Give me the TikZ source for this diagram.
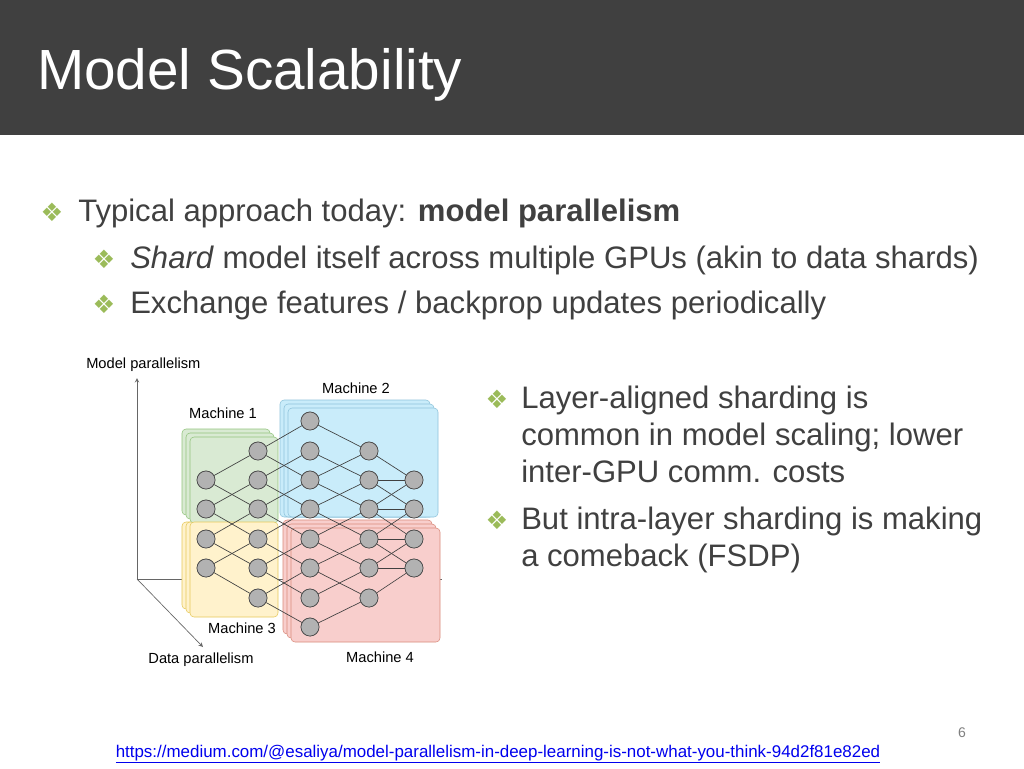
\documentclass[tikz,border=0pt]{standalone}
\usepackage{fontspec}
\setmainfont{Liberation Sans}
\newfontfamily\symf{DejaVu Sans}
\usepackage{xcolor}
\definecolor{bar}{HTML}{404040}
\definecolor{txt}{HTML}{404040}
\definecolor{bul}{HTML}{9BBB59}
\definecolor{gf}{HTML}{D9EAD3}\definecolor{gd}{HTML}{93C47D}
\definecolor{bf}{HTML}{C9ECFA}\definecolor{bd}{HTML}{8EC3DB}
\definecolor{yf}{HTML}{FFF2CC}\definecolor{yd}{HTML}{E6C85A}
\definecolor{rf}{HTML}{F8CECC}\definecolor{rd}{HTML}{D98A7A}
\definecolor{lnk}{HTML}{0000EE}
\begin{document}
\begin{tikzpicture}[x=0.75pt,y=-0.75pt,
  nn/.style={circle,fill=gray!60,draw=black!70,line width=0.5pt,minimum size=13.5pt,inner sep=0pt},
  lbl/.style={font=\fontsize{11}{13}\selectfont,text=black,inner sep=0pt},
  body/.style={font=\fontsize{23.3}{28}\selectfont,text=txt,anchor=base west,inner sep=0pt},
  bull/.style={font=\symf\fontsize{19}{22}\selectfont,text=bul,inner sep=0pt},
  edge/.style={draw=black!75,line width=0.5pt}]
\useasboundingbox (0,0) rectangle (1024,768);
\fill[white] (0,0) rectangle (1024,768);
\fill[bar] (0,0) rectangle (1024,135);
\node[anchor=base west,text=white,font=\fontsize{42.5}{50}\selectfont,inner sep=0pt] (title) at (37,89) {Model Scalability};
% bullets
\node[bull] (b1) at (52,212) {❖};
\node[body] (t1) at (78,221) {Typical approach today: \textbf{model parallelism}};
\node[bull] (b2) at (104,259) {❖};
\node[body] (t2) at (130,268) {\textit{Shard} model itself across multiple GPUs (akin to data shards)};
\node[bull] (b3) at (104,304) {❖};
\node[body] (t3) at (130,313) {Exchange features / backprop updates periodically};
\node[bull] (b4) at (497,399) {❖};
\node[body] (t4) at (521,408) {Layer-aligned sharding is};
\node[body] (t5) at (521,445) {common in model scaling; lower};
\node[body] (t6) at (521,482) {inter-GPU comm. costs};
\node[bull] (b5) at (497,520) {❖};
\node[body] (t7) at (521,529) {But intra-layer sharding is making};
\node[body] (t8) at (521,566) {a comeback (FSDP)};
\node[text=gray,font=\fontsize{10.5}{12}\selectfont] (pg) at (962,733) {6};
\node[text=lnk,font=\fontsize{12.7}{14}\selectfont] (url) at (498,754) {\underline{https://medium.com/@esaliya/model-parallelism-in-deep-learning-is-not-what-you-think-94d2f81e82ed}};
% axes
\coordinate (o) at (137,579);
\coordinate (up) at (137,378);
\coordinate (rt) at (442,579);
\coordinate (dg) at (203,647);
\draw[black!60,line width=0.5pt,-stealth] (o) -- (up);
\draw[black!60,line width=0.5pt] (o) -- (rt);
\draw[black!60,line width=0.5pt,-stealth] (o) -- (dg);
% machine boxes
\foreach \d in {0,4,8}{
 \draw[gd,fill=gf,rounded corners=3pt] (182+\d,429+\d) rectangle (270+\d,515+\d);
 \draw[yd,fill=yf,rounded corners=3pt] (182+\d,522) rectangle (270+\d,609+\d);
 \draw[bd,fill=bf,rounded corners=3pt] (280+\d,400+\d) rectangle (430+\d,517);
 \draw[rd,fill=rf,rounded corners=3pt] (283+\d,520+\d) rectangle (432+\d,634+\d);
}
% nodes
\foreach \r/\y in {1/421,2/451,3/480,4/509,5/539,6/568,7/598,8/627}{\coordinate (row\r) at (0,\y);}
\foreach \c/\x/\a/\b in {1/206/3/6,2/258/2/7,3/310/1/8,4/369/2/7,5/414/3/6}{
 \foreach \r in {\a,...,\b}{\node[nn] (n\c-\r) at (\x,0 |- row\r) {};}}
\foreach \c/\a/\b/\e/\f in {1/3/6/2/7,2/2/7/1/8,3/1/8/2/7,4/2/7/3/6}{
 \pgfmathtruncatemacro\nc{\c+1}
 \foreach \r in {\a,...,\b}{
  \foreach \s in {\e,...,\f}{
   \pgfmathtruncatemacro\dd{abs(\r-\s)}
   \ifnum\dd=1 \draw[edge] (n\c-\r) -- (n\nc-\s);\fi
   \ifnum\c=4 \ifnum\dd=0 \draw[edge] (n\c-\r) -- (n\nc-\s);\fi\fi
  }}}
\foreach \c/\a/\b in {1/3/6,2/2/7,3/1/8,4/2/7,5/3/6}{
 \foreach \r in {\a,...,\b}{\node[nn] at (n\c-\r) {};}}
% labels
\node[lbl,anchor=west] (lm) at (86,365) {Model parallelism};
\node[lbl] (m1) at (223,413) {Machine 1};
\node[lbl] (m2) at (356,388) {Machine 2};
\node[lbl] (m3) at (242,628) {Machine 3};
\node[lbl] (m4) at (380,657) {Machine 4};
\node[lbl] (ld) at (201,660) {Data parallelism};
\end{tikzpicture}
\end{document}
